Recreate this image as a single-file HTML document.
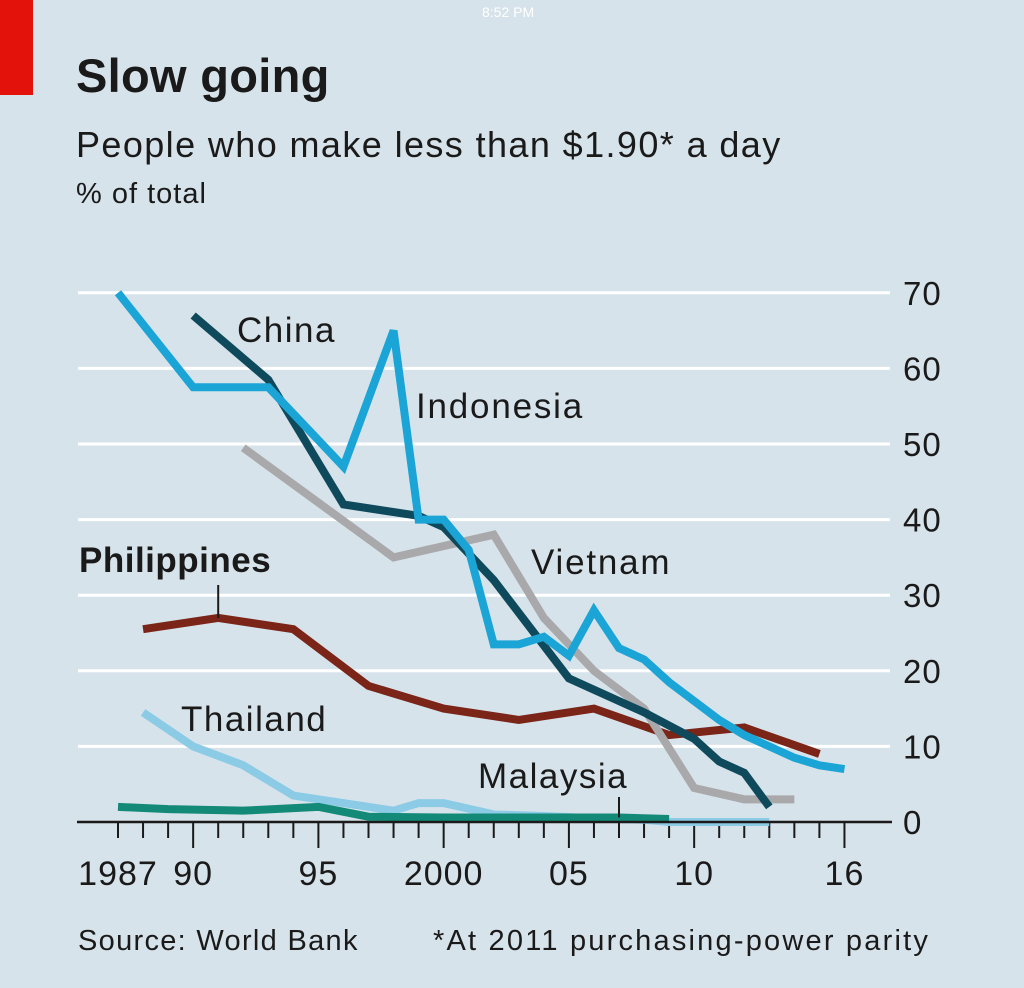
<!DOCTYPE html>
<html><head><meta charset="utf-8">
<style>
body{margin:0;width:1024px;height:988px;background:#d7e3ea;font-family:"Liberation Sans",sans-serif;overflow:hidden;position:relative;color:#1a1a1a}
.t{position:absolute;white-space:nowrap}
</style></head>
<body>
<div style="position:absolute;left:0;top:0;width:33px;height:95px;background:#e3120b"></div>
<div class="t" style="left:482px;top:4px;font-size:14px;color:#fff">8:52 PM</div>
<div class="t" style="left:76px;top:48px;font-size:47px;font-weight:bold;letter-spacing:0.3px">Slow going</div>
<div class="t" style="left:76px;top:124px;font-size:36px;letter-spacing:1.4px">People who make less than $1.90* a day</div>
<div class="t" style="left:76px;top:178px;font-size:29px;letter-spacing:1px">% of total</div>
<svg id="chart" width="1024" height="988" style="position:absolute;left:0;top:0"></svg>
<div class="t" style="left:78px;top:925px;font-size:29px;letter-spacing:1.3px">Source: World Bank</div>
<div class="t" style="left:433px;top:925px;font-size:29px;letter-spacing:2.2px">*At 2011 purchasing-power parity</div>
<script>
const yTicks=[0,10,20,30,40,50,60,70];
const xLabels=[[1987,"1987"],[1990,"90"],[1995,"95"],[2000,"2000"],[2005,"05"],[2010,"10"],[2016,"16"]];
const indoYears=[1987,1990,1993,1996,1998,1999,2000,2001,2002,2003,2004,2005,2006,2007,2008,2009,2010,2011,2012,2013,2014,2015,2016];
const indoVals=[70,57.5,57.5,47,65,40,40,36,23.5,23.5,24.5,22,28,23,21.5,18.5,16,13.5,11.5,10,8.5,7.5,7];
const chinaYears=[1990,1993,1996,1999,2000,2002,2005,2008,2010,2011,2012,2013];
const chinaVals=[67,58.5,42,40.5,39,32,19,14.5,11,8,6.5,2];
const vietYears=[1992,1998,2002,2004,2006,2008,2010,2012,2014];
const vietVals=[49.5,35,38,27,20,15,4.5,3,3];
const philYears=[1988,1991,1994,1997,2000,2003,2006,2009,2012,2015];
const philVals=[25.5,27,25.5,18,15,13.5,15,11.5,12.5,9];
const thaiYears=[1988,1990,1992,1994,1996,1998,1999,2000,2002,2004,2006,2008,2009,2013];
const thaiVals=[14.5,10,7.5,3.5,2.5,1.5,2.5,2.5,1,0.8,0.5,0.3,0,0];
const malYears=[1987,1989,1992,1995,1997,2000,2003,2007,2009];
const malVals=[2,1.7,1.5,2,0.7,0.6,0.6,0.6,0.4];
const svg=document.getElementById('chart');const NS='http://www.w3.org/2000/svg';
const x=yr=>118+(yr-1987)*25.05;const y=v=>822-v*7.56;
function mk(t,a){const e=document.createElementNS(NS,t);for(const k in a)e.setAttribute(k,a[k]);svg.appendChild(e);return e;}
yTicks.forEach(v=>{if(v>0){const g=mk('line',{x1:78,x2:890,y1:y(v),y2:y(v),stroke:'#fff','stroke-width':3});

}
const t=mk('text',{x:903,y:y(v)+12,'font-size':33,'letter-spacing':1,fill:'#1a1a1a','font-family':'Liberation Sans'});t.textContent=v;

});
for(let yr=1987;yr<=2016;yr++){const major=[1990,1995,2000,2005,2010,2016].includes(yr);
const tk=mk('line',{x1:x(yr),x2:x(yr),y1:822,y2:major?848:838,stroke:'#1a1a1a','stroke-width':2});

}
xLabels.forEach(([yr,l])=>{const t=mk('text',{x:x(yr),y:885,'font-size':34,'letter-spacing':1,'text-anchor':'middle',fill:'#1a1a1a','font-family':'Liberation Sans'});t.textContent=l;

});
function line(ys,vs,col,name){const p=mk('polyline',{points:ys.map((yr,i)=>x(yr)+','+y(vs[i])).join(' '),fill:'none',stroke:col,'stroke-width':8,'stroke-linejoin':'miter'});

}
line(thaiYears,thaiVals,'#8ccbe6','thailand-line');
line(malYears,malVals,'#138a78','malaysia-line');
line(philYears,philVals,'#7b2418','philippines-line');
line(vietYears,vietVals,'#a9a9ab','vietnam-line');
line(chinaYears,chinaVals,'#0e4a5c','china-line');
line(indoYears,indoVals,'#1ba5d6','indonesia-line');
const ax=mk('line',{x1:77,x2:892,y1:822,y2:822,stroke:'#1a1a1a','stroke-width':2.5});


const l1=mk('line',{x1:x(1991),x2:x(1991),y1:585,y2:y(27),stroke:'#1a1a1a','stroke-width':2});


const l2=mk('line',{x1:x(2007),x2:x(2007),y1:797,y2:y(0.6),stroke:'#1a1a1a','stroke-width':2});


[['China',237,342,'normal','china-label',1.5],['Indonesia',416,418,'normal','indonesia-label',1.8],['Vietnam',531,574,'normal','vietnam-label',1.8],['Philippines',79,572,'bold','philippines-label',0.5],['Thailand',181,731,'normal','thailand-label',1.5],['Malaysia',478,788,'normal','malaysia-label',1.5]].forEach(([s,lx,ly,w,n,ls])=>{
const t=mk('text',{x:lx,y:ly,'font-size':35,'letter-spacing':ls,'font-weight':w,fill:'#1a1a1a','font-family':'Liberation Sans'});t.textContent=s;

});
</script>
</body></html>
